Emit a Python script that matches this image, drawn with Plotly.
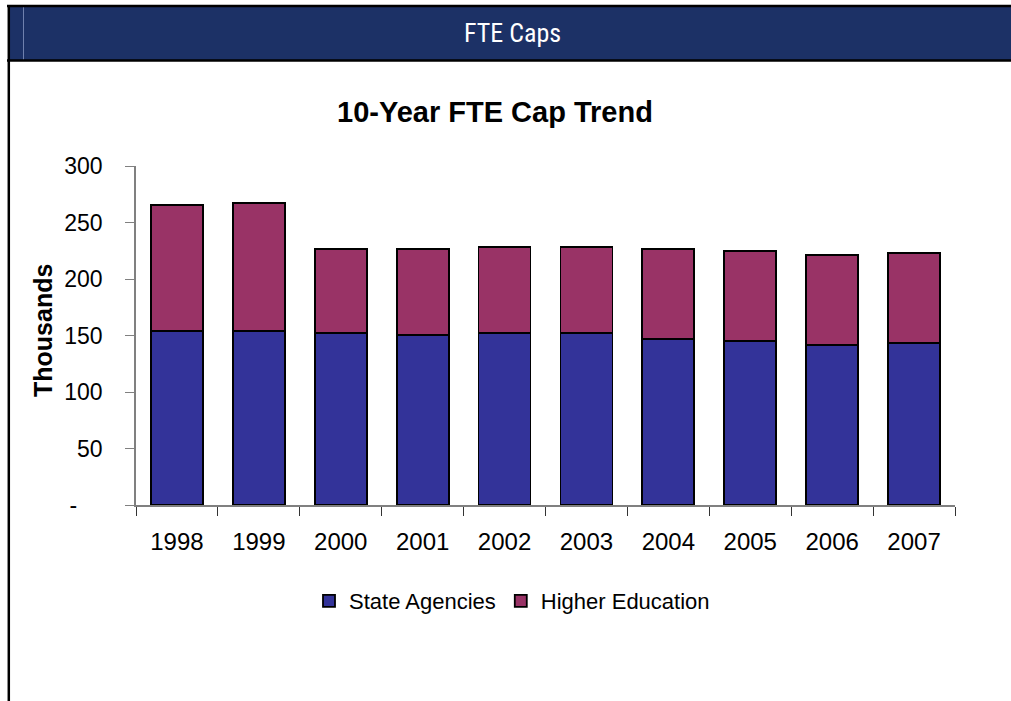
import plotly.graph_objects as go

years = ["1998", "1999", "2000", "2001", "2002", "2003", "2004", "2005", "2006", "2007"]
state_agencies = [154, 154, 152, 150.5, 152, 152, 147, 145, 141.5, 143.5]
higher_education = [111.5, 113.5, 74.5, 76, 76.5, 76.5, 79.5, 80, 79.5, 79.5]
y_tickvals = [0, 50, 100, 150, 200, 250, 300]
y_ticktext = ["-\u00a0\u00a0\u00a0\u00a0", "50", "100", "150", "200", "250", "300"]

W, H = 1011, 701
FONT = "Arial, Liberation Sans, sans-serif"

def px(x):
    return x / W

def py(y):
    return 1 - y / H

fig = go.Figure()
fig.add_trace(go.Bar(x=years, y=state_agencies, name="State Agencies",
                     marker=dict(color="#333399", line=dict(color="black", width=1.8))))
fig.add_trace(go.Bar(x=years, y=higher_education, name="Higher Education",
                     marker=dict(color="#993366", line=dict(color="black", width=1.8))))

shapes = [
    # header band
    dict(type="rect", xref="paper", yref="paper", x0=px(10), x1=1, y0=py(60), y1=py(6),
         fillcolor="#1c3166", line=dict(width=0), layer="below"),
    dict(type="line", xref="paper", yref="paper", x0=px(23.5), x1=px(23.5), y0=py(60), y1=py(7),
         line=dict(color="#6f80ad", width=1)),
    # black borders
    dict(type="line", xref="paper", yref="paper", x0=px(7), x1=1, y0=py(6), y1=py(6),
         line=dict(color="black", width=2.5)),
    dict(type="line", xref="paper", yref="paper", x0=px(7), x1=1, y0=py(60.5), y1=py(60.5),
         line=dict(color="black", width=2.5)),
    dict(type="line", xref="paper", yref="paper", x0=px(8.8), x1=px(8.8), y0=0, y1=py(5),
         line=dict(color="black", width=2.5)),
]

annotations = [
    dict(text="FTE Caps", xref="paper", yref="paper", x=px(512), y=py(33),
         xanchor="center", yanchor="middle", showarrow=False,
         font=dict(family="Liberation Sans Narrow, Roboto Condensed, Arial Narrow, sans-serif",
                   size=26, color="white")),
    dict(text="<b>10-Year FTE Cap Trend</b>", xref="paper", yref="paper", x=px(495), y=py(112),
         xanchor="center", yanchor="middle", showarrow=False,
         font=dict(family=FONT, size=29, color="black")),
    dict(text="<b>Thousands</b>", xref="paper", yref="paper", x=px(43), y=py(331),
         xanchor="center", yanchor="middle", showarrow=False, textangle=-90,
         font=dict(family=FONT, size=25, color="black")),
]

fig.update_layout(
    width=W, height=H,
    margin=dict(l=0, r=0, t=0, b=0, autoexpand=False),
    paper_bgcolor="white", plot_bgcolor="white",
    barmode="stack", bargap=0.366,
    font=dict(family=FONT, color="black"),
    showlegend=True,
    legend=dict(orientation="h", x=px(512), y=py(601), xanchor="center", yanchor="middle",
                font=dict(family=FONT, size=22, color="black"), traceorder="normal",
                itemwidth=30),
    shapes=shapes,
    annotations=annotations,
    xaxis=dict(domain=[px(136), px(955)], showline=True, linecolor="#808080", linewidth=1.5,
               ticks="outside", tickson="boundaries", ticklen=9, tickcolor="#333333", tickwidth=1,
               tickfont=dict(family=FONT, size=24, color="black"), showgrid=False,
               ticklabelstandoff=14, fixedrange=True, automargin=False),
    yaxis=dict(domain=[py(505), py(166)], range=[0, 300], showline=True, linecolor="#808080",
               linewidth=1.5, ticks="outside", ticklen=9, tickcolor="#808080", tickwidth=1,
               tickvals=y_tickvals, ticktext=y_ticktext, showgrid=False, zeroline=False,
               tickfont=dict(family=FONT, size=23, color="black"), ticklabelstandoff=18,
               fixedrange=True, automargin=False),
)

fig.write_html(
    "out.html",
    config={"displayModeBar": False},
    post_script="document.body.style.margin='0';document.body.style.overflow='hidden';",
)
